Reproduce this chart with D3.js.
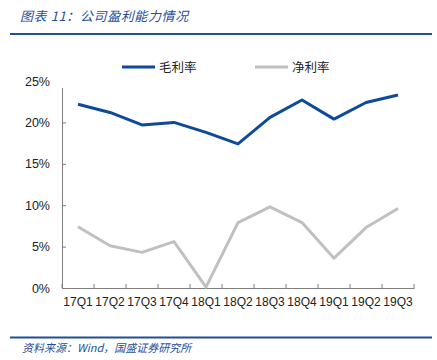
<!DOCTYPE html>
<html><head><meta charset="utf-8">
<script src="https://cdn.jsdelivr.net/npm/d3@7"></script>
<style>body{margin:0;background:#fff}svg{display:block}</style>
</head><body><svg id="c" width="437" height="360"></svg>
<script>
const categories = ["17Q1","17Q2","17Q3","17Q4","18Q1","18Q2","18Q3","18Q4","19Q1","19Q2","19Q3"];
const grossMargin = [22.2,21.2,19.7,20.0,18.8,17.4,20.6,22.7,20.4,22.4,23.3];
const netMargin = [7.4,5.1,4.3,5.6,0.1,7.9,9.8,7.9,3.6,7.3,9.6];
const yTicks = [0,5,10,15,20,25];
const seriesNames = ["毛利率","净利率"];
const titleText = "图表 11：公司盈利能力情况";
const sourceText = "资料来源：Wind，国盛证券研究所";

const svg = d3.select("#c");
const blue = "#0D4A9C", gray = "#C0C0C0", hdr = "#1F4E9A";
const cjk = "'Noto Sans CJK SC', sans-serif";

// header
svg.append("text").attr("x",20).attr("y",21).attr("font-family",cjk).attr("font-style","italic")
  .attr("font-size",13).attr("letter-spacing",0.6).attr("fill",hdr).text(titleText);
svg.append("line").attr("x1",10).attr("x2",432).attr("y1",34).attr("y2",34).attr("stroke",hdr).attr("stroke-width",2);
// footer
svg.append("line").attr("x1",10).attr("x2",432).attr("y1",337.5).attr("y2",337.5).attr("stroke",hdr).attr("stroke-width",2);
svg.append("text").attr("x",22).attr("y",352).attr("font-family",cjk).attr("font-style","italic")
  .attr("font-size",11).attr("fill",hdr).text(sourceText);

const x = d3.scaleBand().domain(categories).range([62,414]);
const y = d3.scaleLinear().domain([0,25]).range([288,81]);

const g = svg.append("g");
// y axis
const ya = g.append("g").attr("transform","translate(62,0)")
  .call(d3.axisLeft(y).tickValues(yTicks).tickFormat(d=>d+"%").tickSize(-4).tickSizeOuter(0).tickPadding(12));
ya.select(".domain").attr("stroke","#7f7f7f").attr("d","M0.5,88V288.5");
ya.selectAll(".tick line").attr("stroke","#7f7f7f").filter(d=>d===25).remove();
ya.selectAll("text").attr("font-family","'Liberation Sans', Arial, sans-serif").attr("font-size",12.5).attr("fill","#222");
// x axis
const xa = g.append("g").attr("transform","translate(0,288)")
  .call(d3.axisBottom(x).tickSize(0).tickPadding(9));
xa.select(".domain").attr("stroke","#7f7f7f");
xa.selectAll("text").attr("font-family","'Liberation Sans', Arial, sans-serif").attr("font-size",12).attr("fill","#222").attr("dy","0.71em");
// x tick marks at band boundaries
const bounds = categories.map(c=>x(c)).concat([x.range()[1]]);
g.selectAll("line.xt").data(bounds).join("line").attr("class","xt")
  .attr("x1",d=>d).attr("x2",d=>d).attr("y1",288).attr("y2",284).attr("stroke","#7f7f7f");

const line = d3.line().x((d,i)=>x(categories[i])+x.bandwidth()/2).y(d=>y(d));
g.append("path").datum(netMargin).attr("d",line).attr("fill","none").attr("stroke",gray).attr("stroke-width",3).attr("stroke-linejoin","round");
g.append("path").datum(grossMargin).attr("d",line).attr("fill","none").attr("stroke",blue).attr("stroke-width",3).attr("stroke-linejoin","round");

// legend
const leg = [{n:seriesNames[0],c:blue,x:122},{n:seriesNames[1],c:gray,x:255}];
leg.forEach(l=>{
  svg.append("line").attr("x1",l.x).attr("x2",l.x+33).attr("y1",67).attr("y2",67).attr("stroke",l.c).attr("stroke-width",3);
  svg.append("text").attr("x",l.x+37).attr("y",71.5).attr("font-family",cjk).attr("font-size",12.5).attr("fill","#222").text(l.n);
});
</script></body></html>
